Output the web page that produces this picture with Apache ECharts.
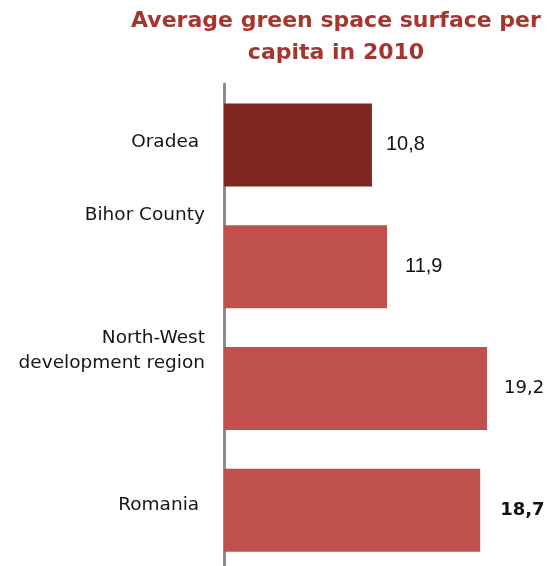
<!DOCTYPE html>
<html>
<head>
<meta charset="utf-8">
<style>
  html, body { margin: 0; padding: 0; background: #ffffff; }
  #chart { width: 550px; height: 566px; }
</style>
<script src="https://cdn.jsdelivr.net/npm/echarts@6/dist/echarts.min.js"></script>
</head>
<body>
<div id="chart"></div>
<script>
// Green space per inhabitant (m²), 2010
const categories = ['Oradea ', 'Bihor County', 'North-West\ndevelopment region', 'Romania '];
const values = [10.8, 11.9, 19.2, 18.7];

// Presentation per row: bar colour, label lift above the bar centre, value label font
const barColors = ['#7f2620', '#c0504d', '#c0504d', '#c0504d'];
const labelLift = [3, 51, 38, 5];
const valueFonts = [
  { fontFamily: '"Liberation Sans", Arial, sans-serif', fontWeight: 'normal', fontSize: 20, distance: 14 },
  { fontFamily: '"Liberation Sans", Arial, sans-serif', fontWeight: 'normal', fontSize: 20, distance: 18 },
  { fontFamily: '"DejaVu Sans", sans-serif', fontWeight: 'normal', fontSize: 18, distance: 17 },
  { fontFamily: '"DejaVu Sans", sans-serif', fontWeight: 'bold', fontSize: 18, distance: 20 }
];

const chart = echarts.init(document.getElementById('chart'), null, { renderer: 'canvas' });

// one rich style per category row; bottom padding lifts the label text
const labelRich = {};
labelLift.forEach((lift, i) => {
  labelRich['r' + i] = {
    fontFamily: '"DejaVu Sans", sans-serif',
    fontSize: 18.5,
    lineHeight: 25,
    color: '#151515',
    align: 'right',
    padding: [0, 0, lift * 2, 0]
  };
});

const seriesData = values.map((v, i) => ({
  value: v,
  itemStyle: { color: barColors[i] },
  label: {
    fontFamily: valueFonts[i].fontFamily,
    fontWeight: valueFonts[i].fontWeight,
    fontSize: valueFonts[i].fontSize,
    distance: valueFonts[i].distance
  }
}));

chart.setOption({
  animation: false,
  backgroundColor: '#ffffff',
  title: {
    text: 'Average green space surface per\ncapita in 2010',
    left: 331,
    top: 0,
    textAlign: 'center',
    textStyle: {
      fontFamily: '"DejaVu Sans", sans-serif',
      fontWeight: 'bold',
      fontSize: 22,
      lineHeight: 32,
      color: '#a5362f'
    }
  },
  grid: { left: 224, right: 52, top: 84, height: 487, outerBoundsMode: 'none' },
  xAxis: {
    type: 'value',
    min: 0,
    max: 20,
    show: false
  },
  yAxis: {
    type: 'category',
    inverse: true,
    data: categories,
    offset: 2,
    axisLine: { show: true, lineStyle: { color: '#8c8c8c', width: 3 } },
    axisTick: { show: false },
    splitLine: { show: false },
    axisLabel: {
      interval: 0,
      margin: 17,
      color: '#151515',
      fontFamily: '"DejaVu Sans", sans-serif',
      fontSize: 18.5,
      lineHeight: 25,
      align: 'right',
      formatter: (value, index) => value.split('\n').map(line => '{r' + index + '|' + line + '}').join('\n'),
      rich: labelRich
    }
  },
  series: [{
    type: 'bar',
    data: seriesData,
    barWidth: 83,
    label: {
      show: true,
      position: 'right',
      color: '#111111',
      formatter: p => String(p.value).replace('.', ',')
    }
  }]
});
</script>
</body>
</html>
